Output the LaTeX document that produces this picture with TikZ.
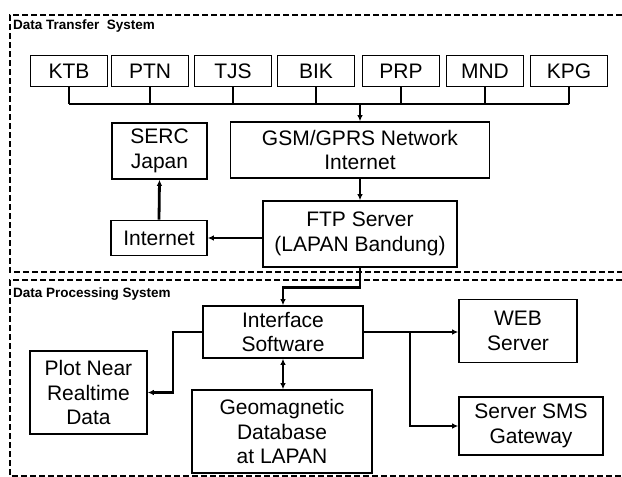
\documentclass[tikz,border=0pt]{standalone}
\usepackage{fontspec}
\setmainfont{Liberation Sans}
\usetikzlibrary{arrows.meta}

\begin{document}
\begin{tikzpicture}[x=1pt,y=-1pt,
        box/.style={draw,line width=1.6pt,align=center,inner sep=0pt,
            font=\fontsize{21}{24.5}\selectfont},
        link/.style={line width=2.8pt},
        arr/.style={link,-{Latex[length=6pt,width=5.5pt]}},
        biarr/.style={link,{Latex[length=6pt,width=5.5pt]}-{Latex[length=6pt,width=5.5pt]}},
        frame/.style={line width=2pt,dash pattern=on 6pt off 3pt},
        title/.style={anchor=base west,inner sep=0pt,font=\fontsize{13.5}{15}\bfseries}]
    \clip (0,0) rectangle (622,477);
    \fill[white] (0,0) rectangle (622,477);
    \draw[frame] (640,15) -- (10,15) -- (10,272) -- (640,272);
    \draw[frame] (640,280) -- (10,280) -- (10,476) -- (640,476);
    \node[title] (tts) at (13,29) {Data Transfer\ \ System};
    \node[title] (tps) at (13,297) {Data Processing System};
    \foreach \name/\x in {KTB/69,PTN/150,TJS/233,BIK/316,PRP/401,MND/485,KPG/569}
        \node[box,minimum width=77pt,minimum height=31pt] (\name) at (\x,71) {\name};
    \coordinate (busL) at (69,104);
    \coordinate (busR) at (569,104);
    \draw[link] (busL) -- (busR);
    \foreach \name in {KTB,PTN,TJS,BIK,PRP,MND,KPG}
        \draw[link] (\name.south) -- (\name.south |- busL);
    \node[box,minimum width=95pt,minimum height=56pt] (serc) at (159.5,151) {SERC\\Japan};
    \node[box,minimum width=259pt,minimum height=56pt] (gsm) at (360,150) {GSM/GPRS Network\\Internet};
    \node[box,minimum width=194pt,minimum height=66pt] (ftp) at (360,234) {FTP Server\\(LAPAN Bandung)};
    \node[box,minimum width=96pt,minimum height=35pt] (inet) at (159,238) {Internet};
    \node[box,minimum width=160pt,minimum height=52pt] (iface) at (283,332) {Interface\\Software};
    \node[box,minimum width=118pt,minimum height=63pt] (web) at (518,331) {WEB\\Server};
    \node[box,minimum width=144pt,minimum height=58pt] (sms) at (531,426) {Server SMS\\Gateway};
    \node[box,minimum width=117pt,minimum height=83pt] (plot) at (88.5,392.5) {Plot Near\\Realtime\\Data};
    \node[box,minimum width=180pt,minimum height=83pt] (geo) at (282,431.5) {Geomagnetic\\Database\\at LAPAN};
    \draw[arr] (gsm.north |- busL) -- (gsm.north);
    \draw[arr] (gsm.south) -- (ftp.north);
    \draw[arr] (ftp.west |- inet.east) -- (inet.east);
    \draw[arr] (inet.north) -- (serc.south);
    \draw[arr] (ftp.south) -- ++(0,20) -| (iface.north);
    \draw[arr] (iface.east) -- (iface.east -| web.west);
    \coordinate (fork) at (410,332);
    \draw[arr] (fork) |- (sms.west);
    \draw[arr] (iface.west) -- (173,332) |- (plot.east);
    \draw[biarr] (iface.south) -- (iface.south |- geo.north);
\end{tikzpicture}
\end{document}
